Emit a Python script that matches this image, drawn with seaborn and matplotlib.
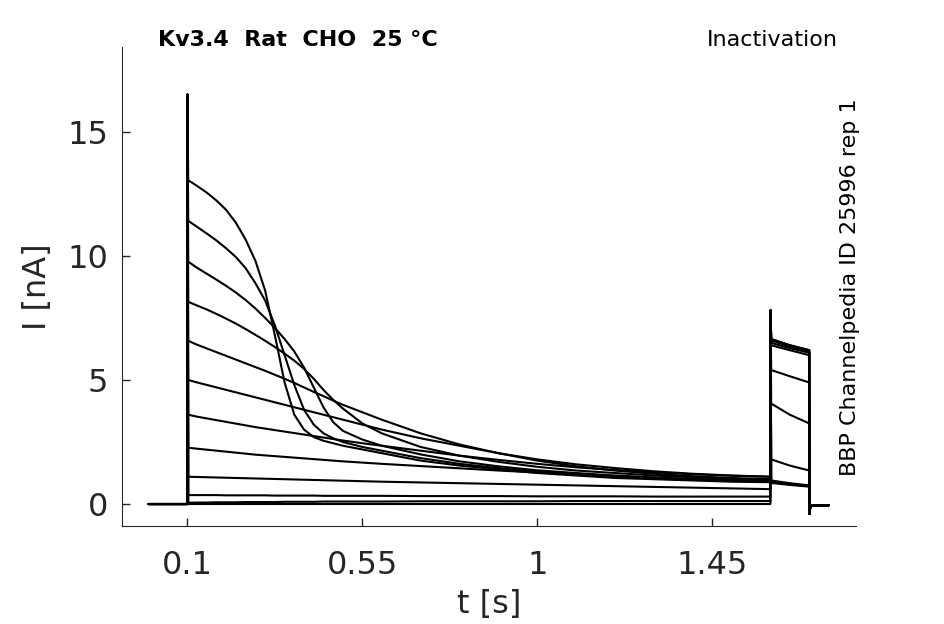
import numpy as np
import pandas as pd
import matplotlib
matplotlib.use("Agg")
import matplotlib.pyplot as plt
import seaborn as sns

# sample times during the prepulse (s)
t_pre = [0.102, 0.125, 0.15, 0.175, 0.2, 0.225, 0.25, 0.275, 0.3, 0.325, 0.35, 0.375,
         0.4, 0.425, 0.45, 0.475, 0.5, 0.55, 0.6, 0.7, 0.8, 0.9, 1.0, 1.1, 1.2, 1.3,
         1.4, 1.5, 1.6]

# prepulse current per sweep (nA)
i_pre_1 = [13.05, 12.82, 12.55, 12.23, 11.85, 11.33, 10.65, 9.8, 8.6, 6.8, 4.9, 3.6,
           3.0, 2.7, 2.55, 2.45, 2.35, 2.2, 2.05, 1.75, 1.55, 1.4, 1.25, 1.15, 1.05, 1.0,
           0.95, 0.9, 0.88]
i_pre_2 = [11.42, 11.17, 10.9, 10.62, 10.3, 9.95, 9.5, 8.9, 8.2, 7.2, 6.0, 4.8,
           3.8, 3.2, 2.85, 2.65, 2.5, 2.3, 2.15, 1.85, 1.62, 1.45, 1.3, 1.2, 1.1, 1.03,
           0.97, 0.93, 0.9]
i_pre_3 = [9.77, 9.52, 9.28, 9.04, 8.79, 8.52, 8.22, 7.88, 7.5, 7.1, 6.65, 6.15,
           5.5, 4.7, 3.9, 3.3, 2.95, 2.6, 2.35, 2.0, 1.72, 1.52, 1.36, 1.25, 1.15, 1.07,
           1.0, 0.95, 0.92]
i_pre_4 = [8.15, 8.0, 7.84, 7.66, 7.47, 7.27, 7.05, 6.82, 6.58, 6.33, 6.06, 5.78,
           5.45, 5.05, 4.6, 4.2, 3.85, 3.25, 2.85, 2.3, 1.95, 1.7, 1.5, 1.35, 1.25, 1.15,
           1.08, 1.02, 0.98]
i_pre_5 = [6.58, 6.42, 6.27, 6.12, 5.97, 5.82, 5.67, 5.52, 5.37, 5.21, 5.05, 4.88,
           4.7, 4.52, 4.35, 4.17, 4.0, 3.7, 3.4, 2.85, 2.4, 2.05, 1.75, 1.52, 1.35, 1.22,
           1.12, 1.05, 1.0]
i_pre_6 = [5.0, 4.9, 4.8, 4.7, 4.6, 4.5, 4.4, 4.3, 4.2, 4.1, 4.0, 3.9,
           3.8, 3.7, 3.6, 3.5, 3.4, 3.2, 3.0, 2.65, 2.35, 2.05, 1.8, 1.6, 1.45, 1.32,
           1.22, 1.15, 1.1]
i_pre_7 = [3.6, 3.52, 3.45, 3.38, 3.31, 3.24, 3.17, 3.1, 3.04, 2.98, 2.92, 2.86,
           2.8, 2.74, 2.68, 2.62, 2.56, 2.45, 2.35, 2.15, 1.95, 1.78, 1.62, 1.48, 1.37, 1.28,
           1.2, 1.14, 1.1]
i_pre_8 = [2.27, 2.23, 2.19, 2.15, 2.11, 2.07, 2.03, 1.99, 1.96, 1.93, 1.9, 1.87,
           1.84, 1.81, 1.78, 1.75, 1.72, 1.67, 1.62, 1.53, 1.44, 1.35, 1.27, 1.19, 1.12, 1.06,
           1.01, 0.97, 0.95]
i_pre_9 = [1.1, 1.09, 1.08, 1.07, 1.06, 1.05, 1.04, 1.03, 1.02, 1.01, 1.0, 0.99,
           0.98, 0.97, 0.96, 0.95, 0.94, 0.92, 0.9, 0.87, 0.84, 0.81, 0.78, 0.75, 0.72, 0.69,
           0.66, 0.63, 0.6]
i_pre_10 = [0.36, 0.36, 0.36, 0.36, 0.35, 0.35, 0.35, 0.35, 0.35, 0.34, 0.34, 0.34,
            0.34, 0.34, 0.33, 0.33, 0.33, 0.33, 0.33, 0.32, 0.32, 0.32, 0.31, 0.31, 0.31, 0.3,
            0.3, 0.3, 0.3]
i_pre_11 = [0.05, 0.06, 0.06, 0.07, 0.07, 0.07, 0.08, 0.08, 0.08, 0.08, 0.09, 0.09,
            0.09, 0.09, 0.1, 0.1, 0.1, 0.1, 0.1, 0.11, 0.11, 0.11, 0.11, 0.12, 0.12, 0.12,
            0.12, 0.12, 0.12]
i_pre_12 = [0.0] * len(t_pre)

# test pulse (s) and current at start / middle / end for each sweep (nA)
t_test = [1.602, 1.65, 1.7]
i_test_start = [0.85, 0.9, 0.95, 1.8, 4.05, 5.4, 6.4, 6.5, 6.6, 6.6, 6.65, 6.65]
i_test_mid = [0.77, 0.8, 0.84, 1.55, 3.6, 5.15, 6.2, 6.28, 6.35, 6.36, 6.4, 6.4]
i_test_end = [0.7, 0.72, 0.75, 1.35, 3.25, 4.9, 6.0, 6.1, 6.15, 6.15, 6.2, 6.2]

# protocol events
t_start, t_on, t_test_on, t_off, t_stop = 0.0, 0.1, 1.6, 1.7, 1.75
onset_spike = 16.5
test_spike = 7.8
tail_dip = -0.4
tail_level = -0.05

pre_sweeps = [i_pre_1, i_pre_2, i_pre_3, i_pre_4, i_pre_5, i_pre_6,
              i_pre_7, i_pre_8, i_pre_9, i_pre_10, i_pre_11, i_pre_12]

rows = []
for k, pre in enumerate(pre_sweeps):
    tt = [t_start, t_on - 0.0005, t_on] + t_pre + [t_test_on + 0.0005] + t_test \
        + [t_off + 0.0005, t_off + 0.003, t_stop]
    ii = [0.0, 0.0, onset_spike] + pre + [test_spike] \
        + [i_test_start[k], i_test_mid[k], i_test_end[k]] \
        + [tail_dip, tail_level, tail_level]
    for j, (a, b) in enumerate(zip(tt, ii)):
        rows.append({"t": a, "I": b, "sweep": k, "order": j})
df = pd.DataFrame(rows)

sns.set_style("ticks")
plt.rcParams["font.family"] = ["DejaVu Sans"]
plt.rcParams["xtick.direction"] = "in"
plt.rcParams["ytick.direction"] = "in"

fig = plt.figure(figsize=(9.45, 6.24), dpi=100)
ax = fig.add_axes([0.129, 0.157, 0.777, 0.768])
sns.lineplot(data=df, x="t", y="I", units="sweep", estimator=None, sort=False,
             color="black", linewidth=1.5, ax=ax, legend=False)

ax.set_xlim(-0.0686, 1.8207)
ax.set_ylim(-0.887, 18.43)
ax.set_xticks([0.1, 0.55, 1, 1.45])
ax.set_xticklabels(["0.1", "0.55", "1", "1.45"])
ax.set_yticks([0, 5, 10, 15])
ax.tick_params(axis="both", labelsize=23, length=6, width=1, colors="#262626")
ax.tick_params(axis="x", pad=17)
ax.tick_params(axis="y", pad=10)
ax.set_xlabel("t [s]", fontsize=23, color="#262626", labelpad=6)
ax.set_ylabel("I [nA]", fontsize=23, color="#262626", labelpad=10)
sns.despine(ax=ax)
for s in ["left", "bottom"]:
    ax.spines[s].set_color("#262626")

fig.text(0.167, 0.936, "Kv3.4  Rat  CHO  25 °C", fontsize=16, fontweight="bold",
         ha="left", va="center", color="black")
fig.text(0.887, 0.936, "Inactivation", fontsize=16, ha="right", va="center",
         color="black")
fig.text(0.899, 0.54, "BBP Channelpedia ID 25996 rep 1", fontsize=16, rotation=90,
         ha="center", va="center", color="black")

fig.savefig("out.png", dpi=100)
